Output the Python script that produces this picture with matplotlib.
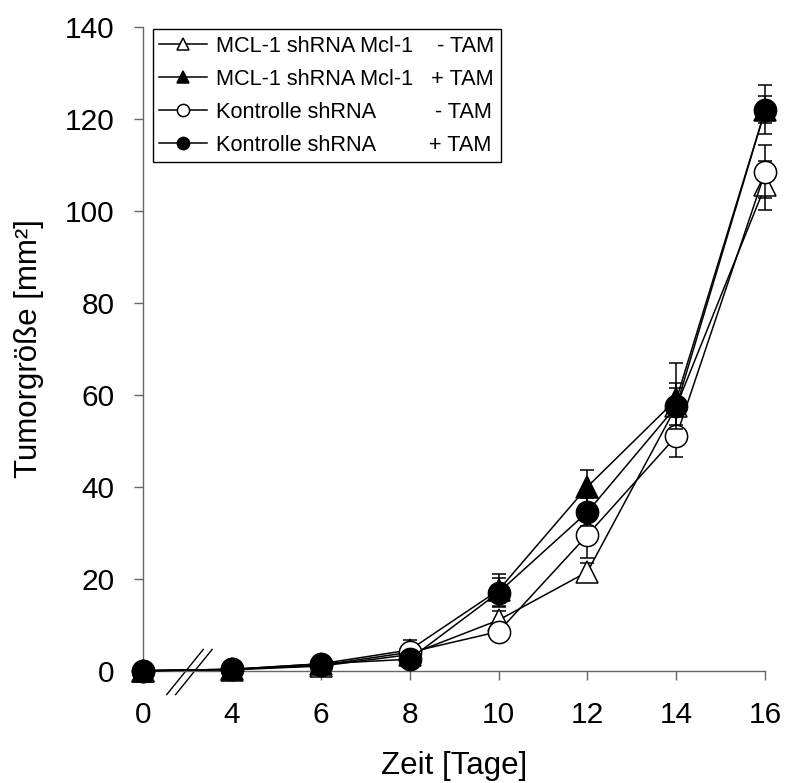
import numpy as np
import matplotlib
matplotlib.use("Agg")
import matplotlib.pyplot as plt
from matplotlib.transforms import blended_transform_factory

plt.rcParams['font.family'] = ['Liberation Sans', 'DejaVu Sans']

# days sampled, drawn at evenly spaced positions (axis is broken between 0 and 4)
days = [0, 4, 6, 8, 10, 12, 14, 16]

labels = ["MCL-1 shRNA Mcl-1    - TAM",
          "MCL-1 shRNA Mcl-1   + TAM",
          "Kontrolle shRNA          - TAM",
          "Kontrolle shRNA         + TAM"]

# tumour size in mm^2
mcl_minus = [0.0, 0.2, 1.0, 3.5, 11.0, 21.5, 57.5, 105.5]
mcl_plus = [0.0, 0.3, 1.5, 4.5, 17.5, 40.0, 59.0, 122.0]
ctrl_minus = [0.0, 0.3, 1.2, 4.0, 8.5, 29.5, 51.0, 108.5]
ctrl_plus = [0.0, 0.3, 1.5, 2.5, 17.0, 34.5, 57.5, 122.0]

# standard errors
mcl_minus_err = [0.0, 0.1, 0.3, 0.8, 2.0, 2.0, 4.0, 5.3]
mcl_plus_err = [0.0, 0.1, 0.4, 2.2, 3.5, 3.7, 8.0, 5.4]
ctrl_minus_err = [0.0, 0.1, 0.3, 1.0, 1.5, 5.0, 4.5, 5.8]
ctrl_plus_err = [0.0, 0.1, 0.4, 0.8, 3.2, 3.0, 5.0, 3.0]

series = [(mcl_minus, mcl_minus_err, "^", "white"),
          (mcl_plus, mcl_plus_err, "^", "black"),
          (ctrl_minus, ctrl_minus_err, "o", "white"),
          (ctrl_plus, ctrl_plus_err, "o", "black")]

pos = np.arange(len(days))

fig = plt.figure(figsize=(7.86, 7.83), dpi=100)
ax = fig.add_axes([0.1816, 0.1434, 0.7921, 0.8225])

handles = []
for i, (y, err, marker, face) in enumerate(series):
    eb = ax.errorbar(pos, y, yerr=err, fmt="none", ecolor="black", elinewidth=1.1,
                     capsize=4.7, capthick=1.1, zorder=2 + 2 * i)
    for art in eb.lines[1] + eb.lines[2]:
        art.set_clip_on(False)
    line, = ax.plot(pos, y, color="black", linewidth=1.1, marker=marker, markersize=16,
                    markerfacecolor=face, markeredgecolor="black", markeredgewidth=1.1,
                    zorder=3 + 2 * i, clip_on=False)
    handles.append(line)

ax.set_xlim(0, len(days) - 1)
ax.set_ylim(0, 140)
ax.set_xticks(pos, [str(d) for d in days])
ax.set_yticks(range(0, 141, 20))

for side in ["top", "right"]:
    ax.spines[side].set_visible(False)
for side in ["left", "bottom"]:
    ax.spines[side].set_color("#666666")
    ax.spines[side].set_linewidth(1.0)
ax.tick_params(axis="both", direction="out", length=6.5, width=1.0, color="#666666",
               labelsize=21.5)
ax.tick_params(axis="y", pad=14)
ax.tick_params(axis="x", pad=15)

ax.set_xlabel("Zeit [Tage]", fontsize=22.5, labelpad=16)
ax.set_ylabel("Tumorgröße [mm²]", fontsize=22.5, labelpad=15)

# axis break marks
trans = blended_transform_factory(ax.transData, ax.transAxes)
for dx in [0.0, 0.1]:
    ax.plot([0.27 + dx, 0.68 + dx], [-0.037, 0.033], color="black", linewidth=1.0,
            transform=trans, clip_on=False, zorder=1)

leg = ax.legend(handles, labels, loc="upper left", bbox_to_anchor=(0.1943, 0.9626),
                bbox_transform=fig.transFigure, borderaxespad=0, fontsize=15.7,
                handlelength=2.2, handletextpad=0.4, labelspacing=0.55, borderpad=0.3,
                markerscale=0.55, fancybox=False, edgecolor="black", framealpha=1)
leg.get_frame().set_linewidth(1.0)
leg.set_zorder(20)

fig.savefig("out.png", dpi=100)
